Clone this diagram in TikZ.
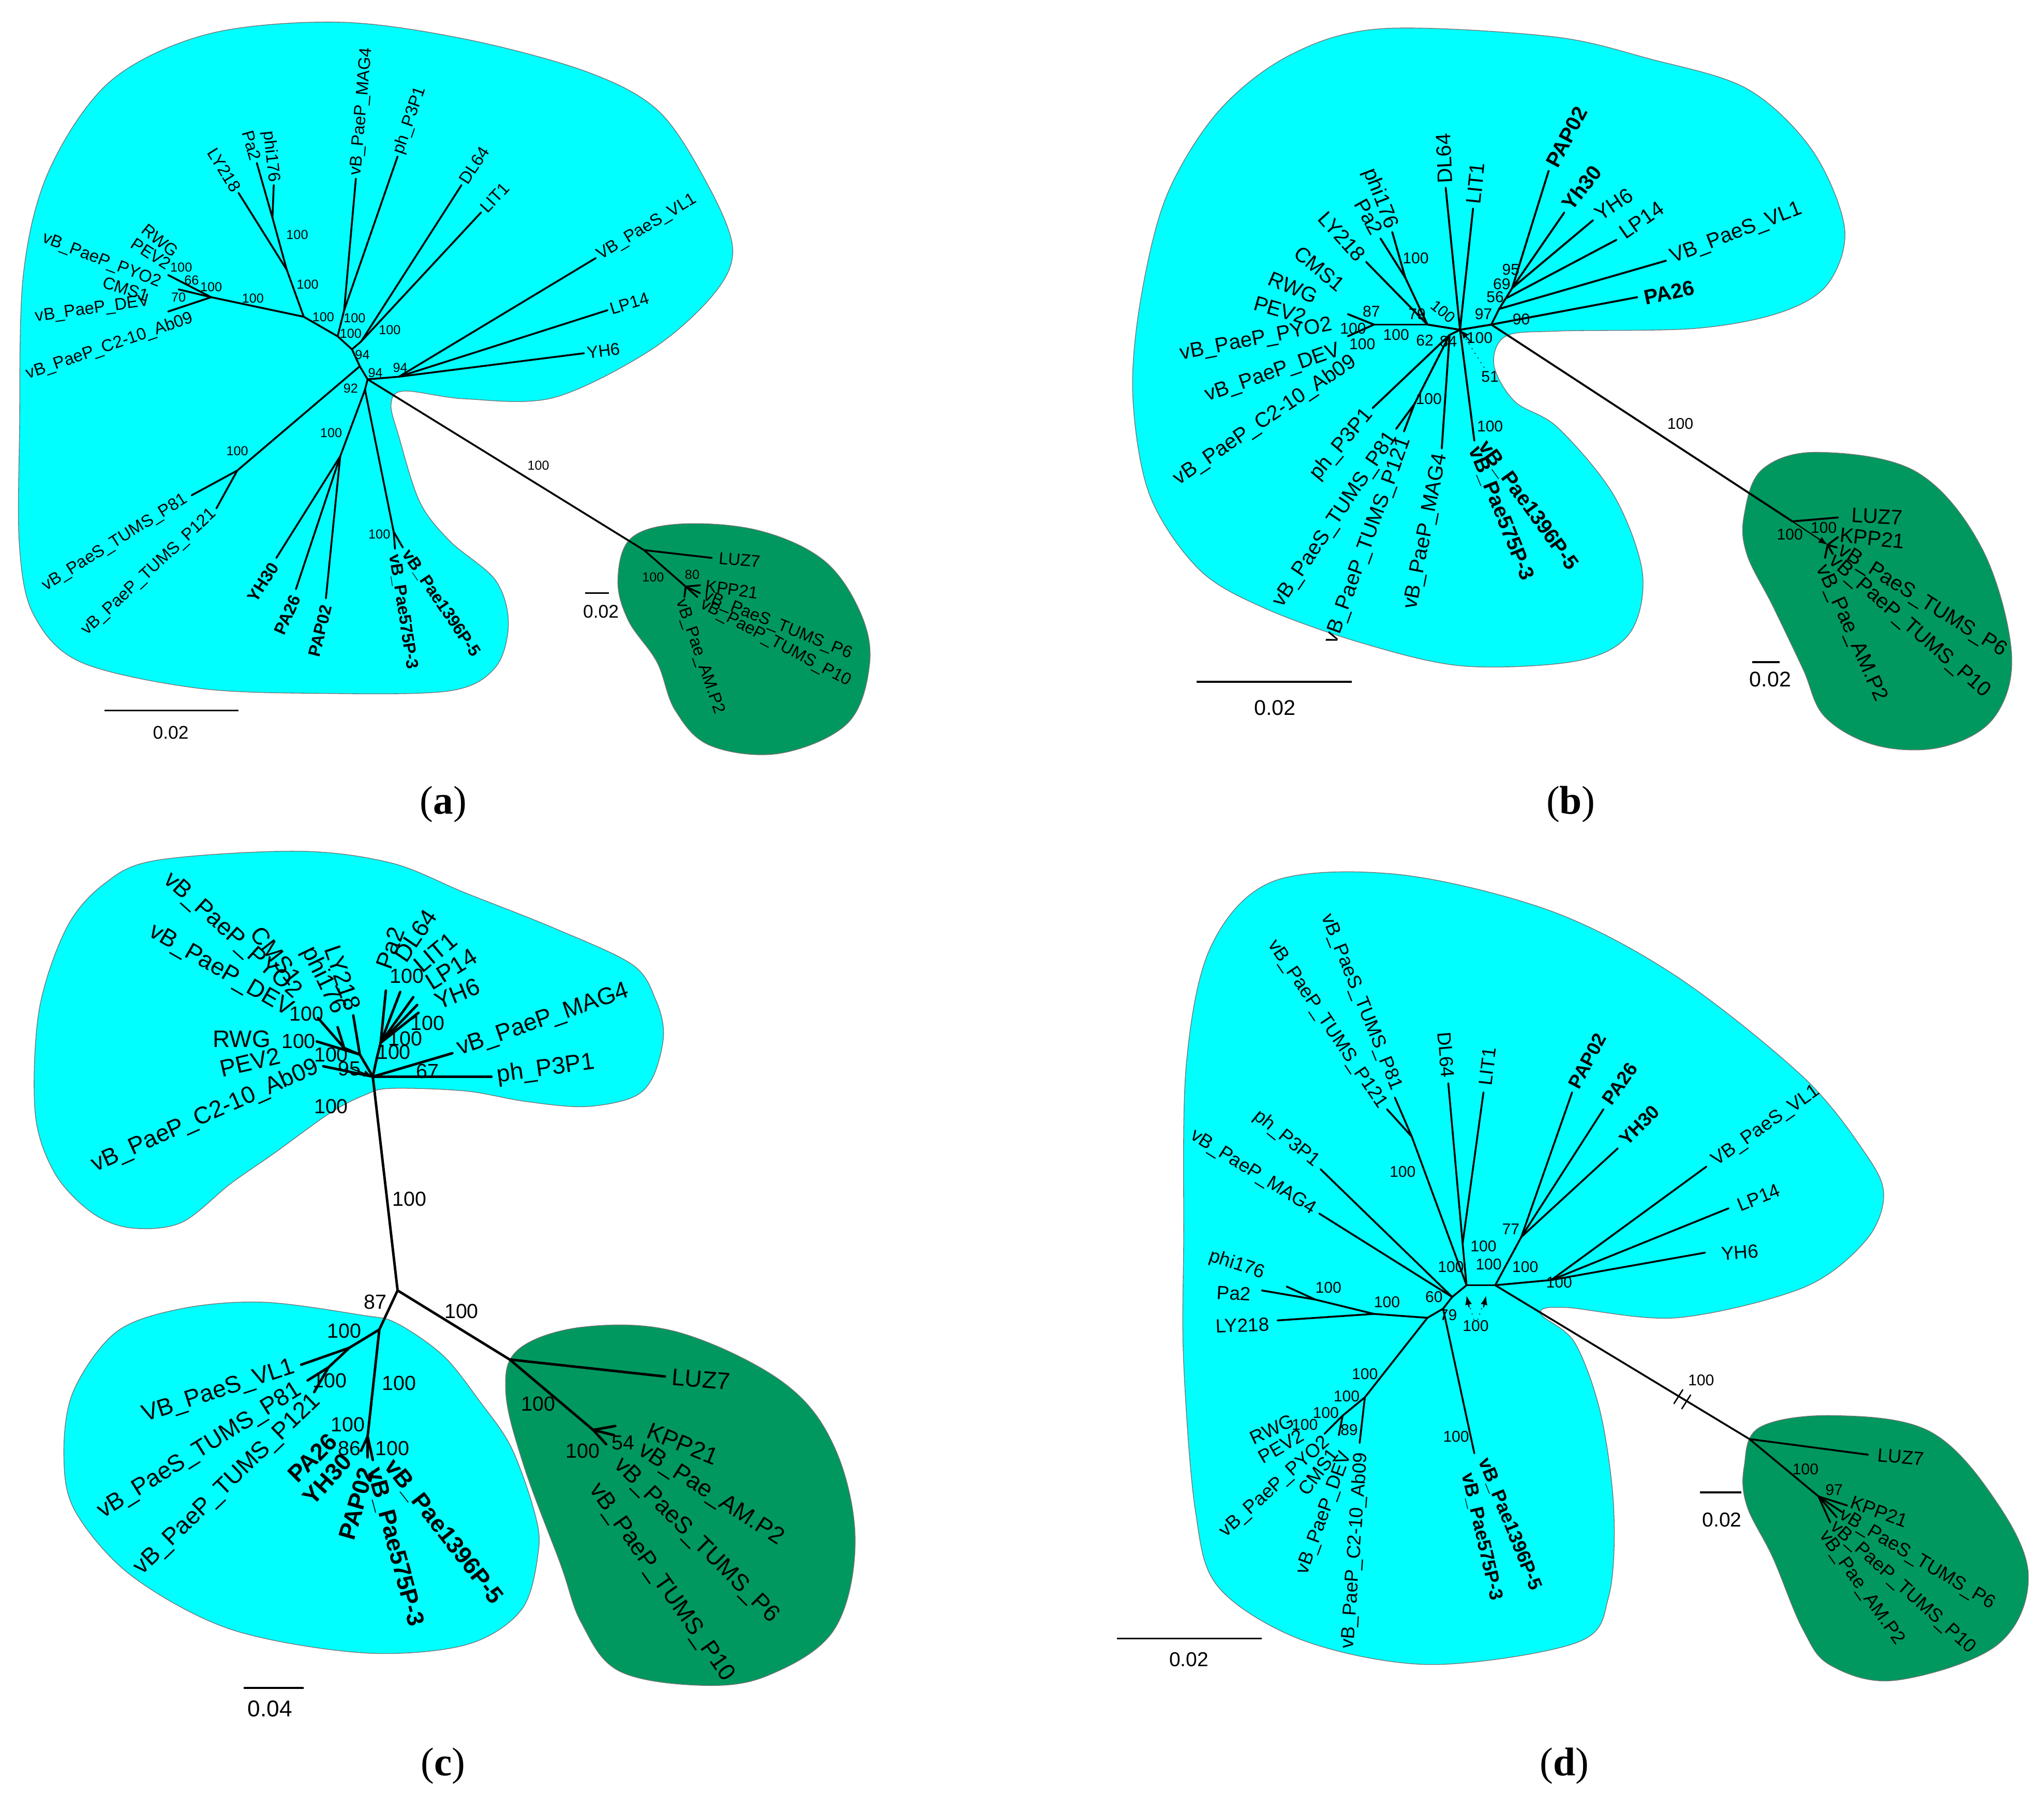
\documentclass[tikz,border=0pt]{standalone}
\usepackage{fontspec}
\setmainfont{Liberation Sans}
\newfontfamily\capfont{Liberation Serif}
\usetikzlibrary{arrows.meta}
\definecolor{cyanblob}{RGB}{0,255,255}
\definecolor{greenblob}{RGB}{0,152,94}
\newcommand\nd[2]{\coordinate (#1) at (#2);}
\newcommand\tp[3]{\coordinate (#1) at (#2); \draw[br] (#3) -- (#1);}
\newcommand\lb[5]{\node[lf,rotate=#3,anchor=#4] (#1) at (#2) {#5};}
\newcommand\bs[3]{\node[bsn] (#1) at (#2) {#3};}
\begin{document}
\begin{tikzpicture}[x=0.02cm,y=-0.02cm,
  br/.style={line width=\brw, line cap=round, line join=round},
  lf/.style={inner sep=1.2pt, font=\lfont},
  bsn/.style={inner sep=0pt, font=\bfont},
  cyb/.style={fill=cyanblob, draw=black!55, line width=0.3pt},
  grb/.style={fill=greenblob, draw=black!55, line width=0.3pt},
  scl/.style={line width=0.8pt},
  sclt/.style={inner sep=0pt, font=\sfont},
  pl/.style={inner sep=0pt, font=\capfont\fontsize{17.5}{20}\selectfont},
  mk/.style={-{Latex[length=4pt,width=3pt]}, line width=0.5pt}]
\useasboundingbox (0,0) rectangle (1568,1377);

%================ PANEL (a) ================
\begin{scope}
\def\lfont{\fontsize{7.4}{8.5}\selectfont}
\def\bfont{\fontsize{5.7}{6.5}\selectfont}
\def\sfont{\fontsize{8}{9}\selectfont}
\def\brw{0.8pt}
\path[cyb] plot[smooth cycle, tension=0.55] coordinates {(15,330) (18,210) (38,130) (85,62) (160,26) (260,17) (357,30) (450,55) (505,85) (542,140) (562,190) (548,225) (500,268) (425,305) (357,306) (310,300) (300,310) (306,335) (322,385) (345,415) (380,445) (390,478) (380,512) (345,530) (250,532) (152,528) (62,508) (26,472) (15,420)};
\path[grb] plot[smooth cycle, tension=0.6] coordinates {(474,445) (484,413) (522,402) (582,407) (632,430) (660,470) (667,510) (650,555) (598,578) (545,572) (518,545) (504,508) (482,476)};
\nd{aC}{162,228}\nd{aN1}{233,243}\nd{aN2}{259,258}\nd{aN3}{270,268}\nd{aN4}{276,281}\nd{aN5}{282,291}
\draw[br] (aC) -- (aN1) -- (aN2) -- (aN3) -- (aN4) -- (aN5);
\tp{aT1}{129,211}{aC}\tp{aT2}{137,222}{aC}\tp{aT3}{129,239}{aC}
\tp{aL1}{220,207}{aN1}\tp{aLY}{183,148}{aL1}\tp{aL2}{209,167}{aL1}\tp{aPa}{197,125}{aL2}\tp{aPh}{210,142}{aL2}
\tp{aM}{264,238}{aN2}\tp{aMAG}{273,137}{aM}\tp{aP3}{305,120}{aM}
\tp{aD}{277,262}{aN3}\tp{aDL}{354,142}{aD}\tp{aLI}{369,163}{aD}
\tp{aR}{306,289}{aN5}\tp{aVL}{457,198}{aR}\tp{aLP}{466,238}{aR}\tp{aY6}{448,271}{aR}
\tp{aT}{182,361}{aN4}\tp{aP81}{147,380}{aT}\tp{aP121}{166,390}{aT}
\tp{aN6}{280,299}{aN5}\tp{aB}{261,350}{aN6}\tp{aYH}{212,428}{aB}\tp{aPA}{227,452}{aB}\tp{aPAP}{250,459}{aB}
\tp{aQ}{302,408}{aN6}\tp{aQ1}{303,421}{aQ}\tp{aQ2}{309,420}{aQ}
\tp{aG}{494,422}{aN5}
\tp{aLUZ}{546,428}{aG}\tp{aK}{526,450}{aG}\tp{aKP}{537,449}{aK}\tp{aP6}{537,455}{aK}\tp{aP10}{535,458}{aK}\tp{aAM}{525,458}{aK}
\lb{aLYt}{183,148}{-58}{east}{LY218}
\lb{aPat}{197,125}{-74}{east}{Pa2}
\lb{aPht}{210,142}{-84}{east}{phi176}
\lb{aMAGt}{273,137}{85}{west}{vB\_PaeP\_MAG4}
\lb{aP3t}{305,120}{71}{west}{ph\_P3P1}
\lb{aDLt}{354,142}{57}{west}{DL64}
\lb{aLIt}{369,163}{47}{west}{LIT1}
\lb{aVLt}{457,198}{31}{west}{VB\_PaeS\_VL1}
\lb{aLPt}{466,238}{17}{west}{LP14}
\lb{aY6t}{448,271}{7}{west}{YH6}
\lb{aRWGt}{137,196}{-39}{east}{RWG}
\lb{aPEVt}{132,205}{-33}{east}{PEV2}
\lb{aPYOt}{125,218}{-21}{east}{vB\_PaeP\_PYO2}
\lb{aCMSt}{116,228}{-18}{east}{CMS1}
\lb{aDEVt}{117,231}{8}{east}{vB\_PaeP\_DEV}
\lb{aC2t}{150,243}{19}{east}{vB\_PaeP\_C2-10\_Ab09}
\lb{aP81t}{145,381}{32}{east}{vB\_PaeS\_TUMS\_P81}
\lb{aP121t}{166,391}{43}{east}{vB\_PaeP\_TUMS\_P121}
\lb{aYHt}{212,431}{57}{east}{\bfseries YH30}
\lb{aPAt}{228,455}{66}{east}{\bfseries PA26}
\lb{aPAPt}{251,462}{76}{east}{\bfseries PAP02}
\lb{aQ1t}{302,423}{-81}{west}{\bfseries vB\_Pae575P-3}
\lb{aQ2t}{310,421}{-56}{west}{\bfseries vB\_Pae1396P-5}
\lb{aLUZt}{549,428}{-5}{west}{LUZ7}
\lb{aKPt}{539,449}{-8}{west}{KPP21}
\lb{aP6t}{538,456}{-22}{west}{vB\_PaeS\_TUMS\_P6}
\lb{aP10t}{536,462}{-28}{west}{vB\_PaeP\_TUMS\_P10}
\lb{aAMt}{521,458}{-71}{west}{vB\_Pae\_AM.P2}
\bs{ab1}{139,205}{100}\bs{ab2}{147,215}{66}\bs{ab3}{137,228}{70}\bs{ab4}{162,220}{100}
\bs{ab5}{194,229}{100}\bs{ab6}{228,180}{100}\bs{ab7}{236,218}{100}\bs{ab8}{248,243}{100}
\bs{ab9}{272,244}{100}\bs{ab10}{269,256}{100}\bs{ab11}{299,253}{100}\bs{ab12}{278,272}{94}
\bs{ab13}{288,286}{94}\bs{ab14}{307,282}{94}\bs{ab15}{269,298}{92}\bs{ab16}{182,346}{100}
\bs{ab17}{254,332}{100}\bs{ab18}{291,410}{100}\bs{ab19}{413,357}{100}\bs{ab20}{501,443}{100}\bs{ab21}{531,441}{80}
\nd{aS1}{80,545}\nd{aS2}{183,545}\draw[scl] (aS1) -- (aS2);
\node[sclt] (aSt) at (131,562) {0.02};
\nd{aS3}{449,455}\nd{aS4}{467,455}\draw[scl] (aS3) -- (aS4);
\node[sclt] (aSt2) at (461,469) {0.02};
\node[pl] (labA) at (340,617) {(\textbf{a})};
\end{scope}

%================ PANEL (b) ================
\begin{scope}
\def\lfont{\fontsize{9.1}{10}\selectfont}
\def\bfont{\fontsize{6.8}{7.5}\selectfont}
\def\sfont{\fontsize{9.3}{10}\selectfont}
\def\brw{0.85pt}
\path[cyb] plot[smooth cycle, tension=0.55] coordinates {(869,304) (875,230) (895,150) (935,85) (990,42) (1060,22) (1190,28) (1265,45) (1340,68) (1390,115) (1415,175) (1402,218) (1365,240) (1300,252) (1195,254) (1155,258) (1146,280) (1162,308) (1195,328) (1238,380) (1260,440) (1250,486) (1210,507) (1123,511) (1047,494) (971,467) (920,437) (882,380)};
\path[grb] plot[smooth cycle, tension=0.6] coordinates {(1338,395) (1352,360) (1395,347) (1470,362) (1520,420) (1543,500) (1530,550) (1490,573) (1440,572) (1400,550) (1383,513) (1360,465) (1340,425)};
\nd{bC}{1054,249}
\tp{bT1}{1034,241}{bC}\tp{bT2}{1034,258}{bC}
\tp{bN1}{1095,249}{bC}\tp{bX}{1120,253}{bN1}
\tp{bLY}{1048,201}{bN1}\tp{bPh}{1078,213}{bN1}\tp{bPhi}{1068,178}{bPh}\tp{bPa}{1059,183}{bPh}
\tp{bDL}{1109,144}{bX}\tp{bLI}{1130,160}{bX}
\tp{bX2}{1112,257}{bX}
\tp{bP3}{1053,313}{bX2}\tp{bTU}{1085,310}{bX2}\tp{bP81}{1071,329}{bTU}\tp{bP121}{1077,331}{bTU}
\tp{bMAG}{1106,344}{bX2}\tp{bPae}{1131,338}{bX}
\tp{bR}{1144,249}{bX}
\tp{bS1}{1150,237}{bR}\tp{bS2}{1155,229}{bS1}\tp{bS3}{1160,221}{bS2}
\tp{bVL}{1278,200}{bS1}\tp{bLP}{1240,184}{bS2}\tp{bY6}{1222,169}{bS3}\tp{bYh}{1200,163}{bS3}\tp{bPAP}{1188,131}{bS3}
\tp{bPA}{1256,228}{bR}
\nd{bL7}{1375,400}\nd{bG}{1402,418}
\draw[br] (bR) -- (bL7);
\draw[br,mk] (bL7) -- (bG);
\tp{bLUZ}{1410,397}{bL7}
\tp{bKP}{1410,412}{bG}\tp{bP6}{1409,420}{bG}\tp{bP10}{1406,425}{bG}\tp{bAM}{1400,428}{bG}
\nd{bMk}{1128,262}\draw[mk] (bMk) -- (bX);
\lb{bDLt}{1109,143}{93}{west}{DL64}
\lb{bLIt}{1130,159}{84}{west}{LIT1}
\lb{bPhit}{1068,177}{-69}{east}{phi176}
\lb{bPat}{1058,181}{-61}{east}{Pa2}
\lb{bLYt}{1046,200}{-48}{east}{LY218}
\lb{bCMSt}{1031,222}{-40}{east}{CMS1}
\lb{bRWGt}{1012,229}{-23}{east}{RWG}
\lb{bPEVt}{1004,244}{-16}{east}{PEV2}
\lb{bPYOt}{1024,249}{11}{east}{vB\_PaeP\_PYO2}
\lb{bDEVt}{1030,268}{19}{east}{vB\_PaeP\_DEV}
\lb{bC2t}{1041,275}{34}{east}{vB\_PaeP\_C2-10\_Ab09}
\lb{bP3t}{1052,314}{50}{east}{ph\_P3P1}
\lb{bP81t}{1070,331}{56}{east}{vB\_PaeS\_TUMS\_P81}
\lb{bP121t}{1079,334}{70}{east}{vB\_PaeP\_TUMS\_P121}
\lb{bMAGt}{1106,346}{79}{east}{vB\_PaeP\_MAG4}
\lb{bQ1t}{1130,341}{-68}{west}{\bfseries vB\_Pae575P-3}
\lb{bQ2t}{1136,338}{-54}{west}{\bfseries vB\_Pae1396P-5}
\lb{bPAPt}{1189,129}{62}{west}{\bfseries PAP02}
\lb{bYht}{1200,161}{52}{west}{\bfseries Yh30}
\lb{bY6t}{1223,167}{34}{west}{YH6}
\lb{bLPt}{1242,181}{35}{west}{LP14}
\lb{bVLt}{1280,199}{21}{west}{VB\_PaeS\_VL1}
\lb{bPAt}{1259,229}{12}{west}{\bfseries PA26}
\lb{bLUZt}{1418,395}{-3}{west}{LUZ7}
\lb{bKPt}{1409,410}{-6}{west}{KPP21}
\lb{bP6t}{1409,420}{-32}{west}{vB\_PaeS\_TUMS\_P6}
\lb{bP10t}{1403,427}{-41}{west}{vB\_PaeP\_TUMS\_P10}
\lb{bAMt}{1396,432}{-66}{west}{vB\_Pae\_AM.P2}
\bs{bb1}{1086,198}{100}\bs{bb2}{1087,241}{79}
\node[bsn,rotate=-40] (bb3) at (1107,239) {100};
\bs{bb4}{1052,239}{87}\bs{bb5}{1038,252}{100}\bs{bb6}{1045,264}{100}\bs{bb7}{1071,257}{100}
\bs{bb8}{1093,261}{62}\bs{bb9}{1111,262}{84}\bs{bb10}{1135,259}{100}\bs{bb11}{1143,289}{51}
\bs{bb12}{1096,306}{100}\bs{bb13}{1143,327}{100}\bs{bb14}{1138,241}{97}\bs{bb15}{1159,207}{95}
\bs{bb16}{1152,218}{69}\bs{bb17}{1147,228}{56}\bs{bb18}{1167,245}{90}\bs{bb19}{1289,325}{100}
\bs{bb20}{1373,410}{100}\bs{bb21}{1399,405}{100}
\draw[dotted, line width=0.4pt] (bX) -- (bb11);
\nd{bS1a}{918,523}\nd{bS2a}{1037,523}\draw[scl] (bS1a) -- (bS2a);
\node[sclt] (bSt) at (978,543) {0.02};
\nd{bS3a}{1344,508}\nd{bS4a}{1365,508}\draw[scl] (bS3a) -- (bS4a);
\node[sclt] (bSt2) at (1358,521) {0.02};
\node[pl] (labB) at (1205,617) {(\textbf{b})};
\end{scope}

%================ PANEL (c) ================
\begin{scope}
\def\lfont{\fontsize{10.4}{11.5}\selectfont}
\def\bfont{\fontsize{8.9}{10}\selectfont}
\def\sfont{\fontsize{10}{11}\selectfont}
\def\brw{1.1pt}
\path[cyb] plot[smooth cycle, tension=0.55] coordinates {(27,854) (30,775) (51,712) (80,678) (120,660) (228,653) (300,662) (357,685) (425,712) (485,740) (503,767) (509,794) (501,826) (485,842) (448,849) (403,845) (357,837) (300,835) (280,840) (253,854) (210,885) (177,908) (139,938) (100,942) (70,930) (42,900)};
\path[cyb] plot[smooth cycle, tension=0.55] coordinates {(49,1118) (56,1068) (89,1022) (139,1004) (202,999) (278,1009) (304,1015) (340,1040) (368,1075) (392,1110) (410,1160) (413,1190) (400,1235) (357,1262) (278,1268) (177,1250) (101,1209) (58,1160)};
\path[grb] plot[smooth cycle, tension=0.6] coordinates {(388,1068) (398,1035) (448,1018) (520,1022) (600,1060) (640,1110) (656,1182) (640,1250) (590,1285) (539,1293) (475,1282) (446,1245) (430,1200) (402,1125)};
\nd{cT}{286,826}
\tp{cA}{276,809}{cT}\tp{cRW}{243,799}{cA}\tp{cB}{264,804}{cA}\tp{cPY}{244,781}{cB}\tp{cPh}{259,788}{cB}\tp{cLY}{271,779}{cA}
\tp{cC2}{248,818}{cT}
\tp{cV}{289,812}{cT}\tp{cW}{292,800}{cV}
\tp{cPa}{296,760}{cW}\tp{cDL}{307,761}{cW}\tp{cLI}{317,765}{cW}\tp{cLP}{320,771}{cW}\tp{cY6}{321,777}{cW}
\tp{cMAG}{347,808}{cT}\tp{cP3}{377,826}{cT}
\nd{cMk}{270,820}\draw[mk] (cMk) -- (cT);
\tp{cL}{305,990}{cT}
\tp{cM}{291,1020}{cL}
\tp{cV1}{268,1034}{cM}\tp{cVL}{231,1047}{cV1}
\tp{cV3}{252,1049}{cV1}\tp{cP81}{236,1059}{cV3}\tp{cP121}{241,1068}{cV3}
\tp{cP}{282,1102}{cM}\tp{cPA}{277,1113}{cP}\tp{cPAP}{282,1118}{cP}\tp{cQ}{286,1120}{cP}
\tp{cG}{391,1043}{cL}
\tp{cLUZ}{510,1056}{cG}
\tp{cH}{455,1097}{cG}\tp{cKP}{472,1094}{cH}\tp{cAM}{471,1101}{cH}\tp{cP6}{465,1108}{cH}
\lb{cPYt}{230,765}{-42}{east}{vB\_PaeP\_PYO2}
\lb{cDEVt}{225,777}{-30}{east}{vB\_PaeP\_DEV}
\lb{cCMSt}{229,755}{-52}{east}{CMS1}
\lb{cPht}{261,779}{-64}{east}{phi176}
\lb{cLYt}{272,777}{-71}{east}{LY218}
\lb{cRWt}{210,797}{0}{east}{RWG}
\lb{cPEt}{217,809}{13}{east}{PEV2}
\lb{cC2t}{246,817}{24}{east}{vB\_PaeP\_C2-10\_Ab09}
\lb{cPat}{293,745}{70}{west}{Pa2}
\lb{cDLt}{305,738}{56}{west}{DL64}
\lb{cLIt}{318,744}{40}{west}{LIT1}
\lb{cLPt}{326,756}{32}{west}{LP14}
\lb{cY6t}{332,770}{22}{west}{YH6}
\lb{cMAGt}{349,806}{19}{west}{vB\_PaeP\_MAG4}
\lb{cP3t}{379,826}{8}{west}{ph\_P3P1}
\lb{cVLt}{228,1048}{18}{east}{VB\_PaeS\_VL1}
\lb{cP81t}{232,1064}{32}{east}{vB\_PaeS\_TUMS\_P81}
\lb{cP121t}{245,1071}{44}{east}{vB\_PaeP\_TUMS\_P121}
\lb{cPAt}{257,1101}{45}{east}{\bfseries PA26}
\lb{cYHt}{268,1116}{48}{east}{\bfseries YH30}
\lb{cPAPt}{282,1124}{74}{east}{\bfseries PAP02}
\lb{cQ1t}{286,1124}{-75}{west}{\bfseries vB\_Pae575P-3}
\lb{cQ2t}{297,1120}{-52}{west}{\bfseries vB\_Pae1396P-5}
\lb{cLUZt}{513,1056}{-5}{west}{LUZ7}
\lb{cKPt}{495,1096}{-22}{west}{KPP21}
\lb{cAMt}{489,1110}{-33}{west}{vB\_Pae\_AM.P2}
\lb{cP6t}{472,1120}{-45}{west}{vB\_PaeS\_TUMS\_P6}
\lb{cP10t}{454,1138}{-55}{west}{vB\_PaeP\_TUMS\_P10}
\bs{cb1}{235,778}{100}\bs{cb2}{229,799}{100}\bs{cb3}{254,809}{100}\bs{cb4}{268,820}{95}
\bs{cb5}{254,849}{100}\bs{cb6}{312,749}{100}\bs{cb7}{328,785}{100}\bs{cb8}{311,797}{100}
\bs{cb9}{302,807}{100}\bs{cb10}{328,822}{67}
\bs{cb11}{314,920}{100}\bs{cb12}{288,999}{87}\bs{cb13}{354,1006}{100}\bs{cb14}{264,1021}{100}
\bs{cb15}{253,1059}{100}\bs{cb16}{306,1061}{100}\bs{cb17}{267,1093}{100}\bs{cb18}{268,1111}{86}
\bs{cb19}{301,1111}{100}\bs{cb20}{413,1077}{100}\bs{cb21}{447,1113}{100}\bs{cb22}{478,1107}{54}
\nd{cS1}{187,1295}\nd{cS2}{233,1295}\draw[scl] (cS1) -- (cS2);
\node[sclt] (cSt) at (207,1311) {0.04};
\node[pl] (labC) at (340,1355) {(\textbf{c})};
\end{scope}

%================ PANEL (d) ================
\begin{scope}
\def\lfont{\fontsize{8.3}{9.5}\selectfont}
\def\bfont{\fontsize{6.8}{7.5}\selectfont}
\def\sfont{\fontsize{8.8}{10}\selectfont}
\def\brw{0.8pt}
\path[cyb] plot[smooth cycle, tension=0.55] coordinates {(908,954) (910,817) (929,726) (977,676) (1074,671) (1190,699) (1286,749) (1383,826) (1431,885) (1445,917) (1431,952) (1383,988) (1286,1011) (1200,1003) (1182,1008) (1208,1030) (1228,1085) (1238,1159) (1234,1225) (1210,1260) (1098,1277) (1001,1259) (935,1218) (917,1159) (908,1045)};
\path[grb] plot[smooth cycle, tension=0.6] coordinates {(1338,1125) (1350,1095) (1407,1086) (1480,1098) (1530,1150) (1556,1209) (1532,1262) (1455,1289) (1405,1278) (1383,1250) (1360,1195) (1340,1155)};
\nd{dR}{1095,1011}
\tp{dQ}{1054,1008}{dR}\tp{dLY}{980,1013}{dQ}\tp{dP}{1009,997}{dQ}\tp{dPa}{968,990}{dP}\tp{dPh}{987,987}{dP}
\tp{dL1}{1047,1072}{dR}\tp{dC2}{1043,1107}{dL1}\tp{dL2}{1030,1086}{dL1}\tp{dRW}{1016,1100}{dL2}\tp{dCM}{1027,1101}{dL2}
\tp{dS}{1107,1004}{dR}\tp{dQ5}{1131,1115}{dS}
\tp{dX1}{1114,995}{dS}\tp{dP3}{1013,897}{dX1}\tp{dMAG}{1012,931}{dX1}
\tp{dX}{1125,986}{dX1}
\tp{dTU}{1083,872}{dX}\tp{dP121}{1064,851}{dTU}\tp{dP81}{1070,842}{dTU}
\tp{dD}{1122,954}{dX}\tp{dDL}{1111,831}{dD}\tp{dLI}{1138,838}{dD}
\tp{dY}{1147,986}{dX}
\tp{dZ}{1167,949}{dY}\tp{dPAP}{1206,838}{dZ}\tp{dPA}{1230,851}{dZ}\tp{dYH}{1241,881}{dZ}
\tp{dF}{1190,982}{dY}\tp{dVL}{1309,895}{dF}\tp{dLP}{1326,927}{dF}\tp{dY6}{1308,961}{dF}
\tp{dG}{1342,1104}{dY}
\nd{dBr1}{1284,1077}\nd{dBr2}{1291,1066}\draw[line width=0.6pt] (dBr1) -- (dBr2);
\nd{dBr3}{1290,1081}\nd{dBr4}{1297,1070}\draw[line width=0.6pt] (dBr3) -- (dBr4);
\tp{dLUZ}{1433,1116}{dG}
\tp{dK}{1395,1148}{dG}\tp{dKP}{1417,1155}{dK}\tp{dP6}{1413,1160}{dK}\tp{dP10}{1409,1164}{dK}\tp{dAM}{1404,1168}{dK}
\lb{dP81t}{1072,838}{-68}{east}{vB\_PaeS\_TUMS\_P81}
\lb{dP121t}{1062,851}{-56}{east}{vB\_PaeP\_TUMS\_P121}
\lb{dP3t}{1012,894}{-39}{east}{ph\_P3P1}
\lb{dMAGt}{1010,930}{-32}{east}{vB\_PaeP\_MAG4}
\lb{dPht}{972,978}{-18}{east}{phi176}
\lb{dPat}{962,993}{-3}{east}{Pa2}
\lb{dLYt}{976,1016}{2}{east}{LY218}
\lb{dRWt}{994,1088}{25}{east}{RWG}
\lb{dPEt}{1001,1099}{30}{east}{PEV2}
\lb{dPYt}{1020,1103}{42}{east}{vB\_PaeP\_PYO2}
\lb{dCMt}{1025,1111}{53}{east}{CMS1}
\lb{dDEVt}{1034,1112}{70}{east}{vB\_PaeP\_DEV}
\lb{dC2t}{1045,1112}{86}{east}{vB\_PaeP\_C2-10\_Ab09}
\lb{dDLt}{1111,829}{-85}{east}{DL64}
\lb{dLIt}{1139,835}{83}{west}{LIT1}
\lb{dQ1t}{1125,1128}{-77}{west}{\bfseries vB\_Pae575P-3}
\lb{dQ2t}{1137,1117}{-68}{west}{\bfseries vB\_Pae1396P-5}
\lb{dPAPt}{1206,836}{62}{west}{\bfseries PAP02}
\lb{dPAt}{1231,848}{55}{west}{\bfseries PA26}
\lb{dYHt}{1243,878}{45}{west}{\bfseries YH30}
\lb{dVLt}{1313,893}{35}{west}{VB\_PaeS\_VL1}
\lb{dLPt}{1331,926}{22}{west}{LP14}
\lb{dY6t}{1318,962}{4}{west}{YH6}
\lb{dLUZt}{1438,1116}{-5}{west}{LUZ7}
\lb{dKPt}{1418,1151}{-20}{west}{KPP21}
\lb{dP6t}{1410,1160}{-31}{west}{vB\_PaeS\_TUMS\_P6}
\lb{dP10t}{1404,1168}{-42}{west}{vB\_PaeP\_TUMS\_P10}
\lb{dAMt}{1397,1174}{-55}{west}{vB\_Pae\_AM.P2}
\bs{db1}{1076,899}{100}\bs{db2}{1138,956}{100}\bs{db3}{1113,972}{100}\bs{db4}{1142,970}{100}
\bs{db5}{1159,943}{77}\bs{db6}{1170,972}{100}\bs{db7}{1196,984}{100}\bs{db8}{1100,995}{60}
\bs{db9}{1064,999}{100}\bs{db10}{1019,988}{100}\bs{db11}{1111,1009}{79}\bs{db12}{1132,1017}{100}
\bs{db13}{1047,1054}{100}\bs{db14}{1033,1071}{100}\bs{db15}{1017,1084}{100}\bs{db16}{1001,1093}{100}
\bs{db17}{1035,1097}{89}\bs{db18}{1117,1102}{100}\bs{db19}{1305,1059}{100}\bs{db20}{1385,1127}{100}\bs{db21}{1407,1143}{97}
\nd{dMk1}{1125,994}\nd{dMk2}{1140,994}
\draw[dotted, line width=0.4pt] (db12) -- (dMk1);
\draw[dotted, line width=0.4pt] (db12) -- (dMk2);
\nd{dMk1b}{1127,1003}\draw[mk] (dMk1b) -- (dMk1);
\nd{dMk2b}{1138,1003}\draw[mk] (dMk2b) -- (dMk2);
\nd{dS1}{857,1257}\nd{dS2}{968,1257}\draw[scl] (dS1) -- (dS2);
\node[sclt] (dSt) at (912,1273) {0.02};
\nd{dS3}{1304,1145}\nd{dS4}{1336,1145}\draw[scl] (dS3) -- (dS4);
\node[sclt] (dSt2) at (1321,1166) {0.02};
\node[pl] (labD) at (1200,1355) {(\textbf{d})};
\end{scope}
\end{tikzpicture}
\end{document}
